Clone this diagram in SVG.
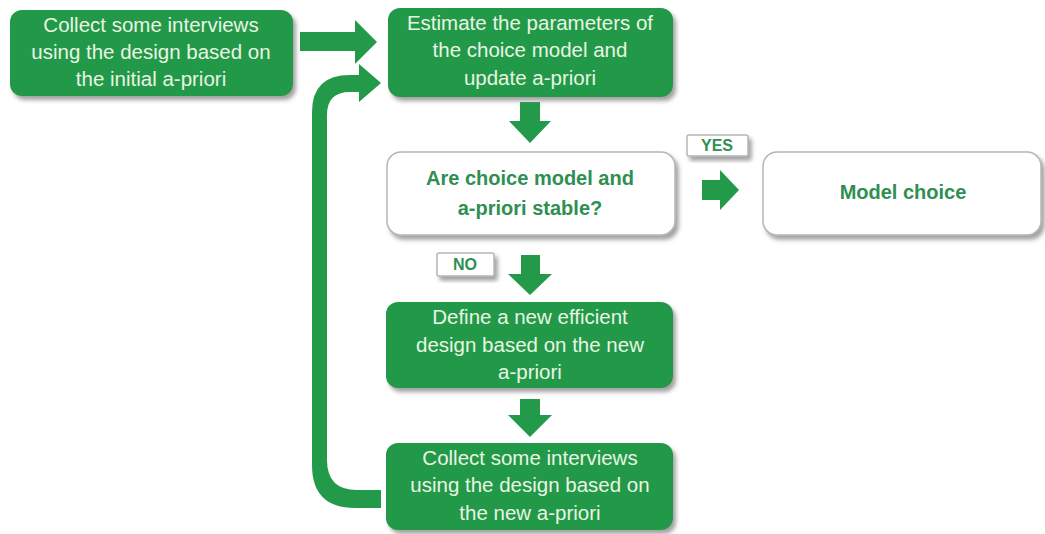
<svg xmlns="http://www.w3.org/2000/svg" width="1045" height="534" viewBox="0 0 1045 534">
<defs>
<filter id="sh" x="-10%" y="-10%" width="125%" height="140%">
<feDropShadow dx="3" dy="4" stdDeviation="2" flood-color="#7a7a7a" flood-opacity="0.7"/>
</filter>
<style>
.g{fill:#23994a;filter:url(#sh)}
.w{fill:#ffffff;stroke:#b5b8b5;stroke-width:1.5;filter:url(#sh)}
.a{fill:#23994a}
.tw{font-family:"Liberation Sans",Arial,sans-serif;font-size:20.5px;fill:#e9f5e2;text-anchor:middle}
.tg{font-family:"Liberation Sans",Arial,sans-serif;font-size:20px;font-weight:bold;fill:#2f8f52;text-anchor:middle}
.tl{font-family:"Liberation Sans",Arial,sans-serif;font-size:16px;font-weight:bold;fill:#2f8f52;text-anchor:middle}
</style>
</defs>
<rect width="1045" height="534" fill="#ffffff"/>
<g id="connectors">
<path class="a" d="M300,32 H355 V20 L377,42 L355,64 V51 H300 Z"/>
<path class="a" d="M520,102 H540 V121 H551 L530,143 L509,121 H520 Z"/>
<path class="a" d="M702,180 H720 V170 L739,190 L720,210 V200 H702 Z"/>
<path class="a" d="M521,255 H540 V274 H552 L530,295 L508,274 H521 Z"/>
<path class="a" d="M520,399 H540 V415 H552 L530,437 L508,415 H520 Z"/>
<path class="a" d="M381,490 H357 Q327,490 327,460 V115 Q327,92 350,92 H359 V102 L381,83 L359,64 V75 H350 Q312,75 312,112 V465 Q312,508 355,508 H381 Z"/>
</g>
<g id="n1"><rect class="g" x="10" y="10" width="283" height="86" rx="12"/>
<text class="tw" x="151" y="32">Collect some interviews</text>
<text class="tw" x="151" y="59">using the design based on</text>
<text class="tw" x="151" y="86">the initial a-priori</text></g>
<g id="n2"><rect class="g" x="388" y="8" width="285" height="89" rx="12"/>
<text class="tw" x="530" y="30">Estimate the parameters of</text>
<text class="tw" x="530" y="57">the choice model and</text>
<text class="tw" x="530" y="85">update a-priori</text></g>
<g id="n3"><rect class="w" x="387" y="152" width="288" height="83" rx="14"/>
<text class="tg" x="530" y="185">Are choice model and</text>
<text class="tg" x="530" y="215">a-priori stable?</text></g>
<g id="yes"><rect class="w" x="687" y="135" width="61" height="21" rx="2"/>
<text class="tl" x="717" y="151">YES</text></g>
<g id="n4"><rect class="w" x="763" y="152" width="278" height="83" rx="14"/>
<text class="tg" x="903" y="199">Model choice</text></g>
<g id="no"><rect class="w" x="437" y="253" width="57" height="23" rx="2"/>
<text class="tl" x="465" y="270">NO</text></g>
<g id="n5"><rect class="g" x="386" y="302" width="287" height="86" rx="12"/>
<text class="tw" x="530" y="324">Define a new efficient</text>
<text class="tw" x="530" y="352">design based on the new</text>
<text class="tw" x="530" y="379">a-priori</text></g>
<g id="n6"><rect class="g" x="386" y="443" width="287" height="87" rx="12"/>
<text class="tw" x="530" y="465">Collect some interviews</text>
<text class="tw" x="530" y="492">using the design based on</text>
<text class="tw" x="530" y="520">the new a-priori</text></g>
</svg>
